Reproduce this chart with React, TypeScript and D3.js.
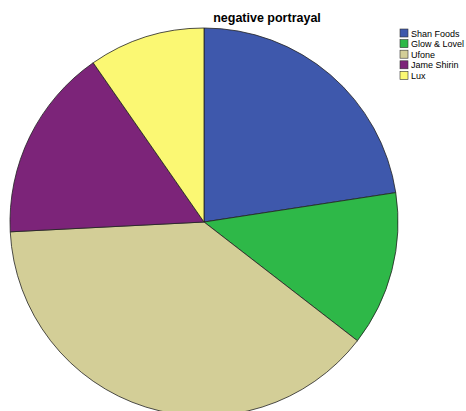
import React from "react";
import * as d3 from "d3";

const categories = ["Shan Foods", "Glow & Lovel", "Ufone", "Jame Shirin", "Lux"];
const values = [7, 4, 12, 5, 3];
const colors = ["#3E58AC", "#2EB848", "#D3CE97", "#7C2479", "#FBF873"];
const title = "negative portrayal";

export default function App() {
  const W = 466, H = 411;
  const cx = 204, cy = 222, r = 194;
  const pie = d3.pie<number>().sort(null).value((d) => d)(values);
  const arc = d3.arc<d3.PieArcDatum<number>>().innerRadius(0).outerRadius(r);
  return (
    <svg width={W} height={H} style={{ position: "absolute", left: 0, top: 0, background: "#fff" }}>
      <text x={267} y={22} textAnchor="middle" fontFamily="Liberation Sans, Arial, sans-serif" fontWeight="bold" fontSize={12.5} fill="#000">{title}</text>
      <g transform={`translate(${cx},${cy})`}>
        {pie.map((p, i) => (
          <path key={i} d={arc(p) || ""} fill={colors[i]} stroke="#222" strokeWidth={0.8} />
        ))}
      </g>
      <g>
        {categories.map((c, i) => (
          <g key={c} transform={`translate(400,${29 + i * 10.6})`}>
            <rect x={0} y={0} width={8} height={8} fill={colors[i]} stroke="#333" strokeWidth={0.6} />
            <text x={11} y={7.5} fontFamily="Liberation Sans, Arial, sans-serif" fontSize={9} fill="#000">{c}</text>
          </g>
        ))}
      </g>
    </svg>
  );
}
